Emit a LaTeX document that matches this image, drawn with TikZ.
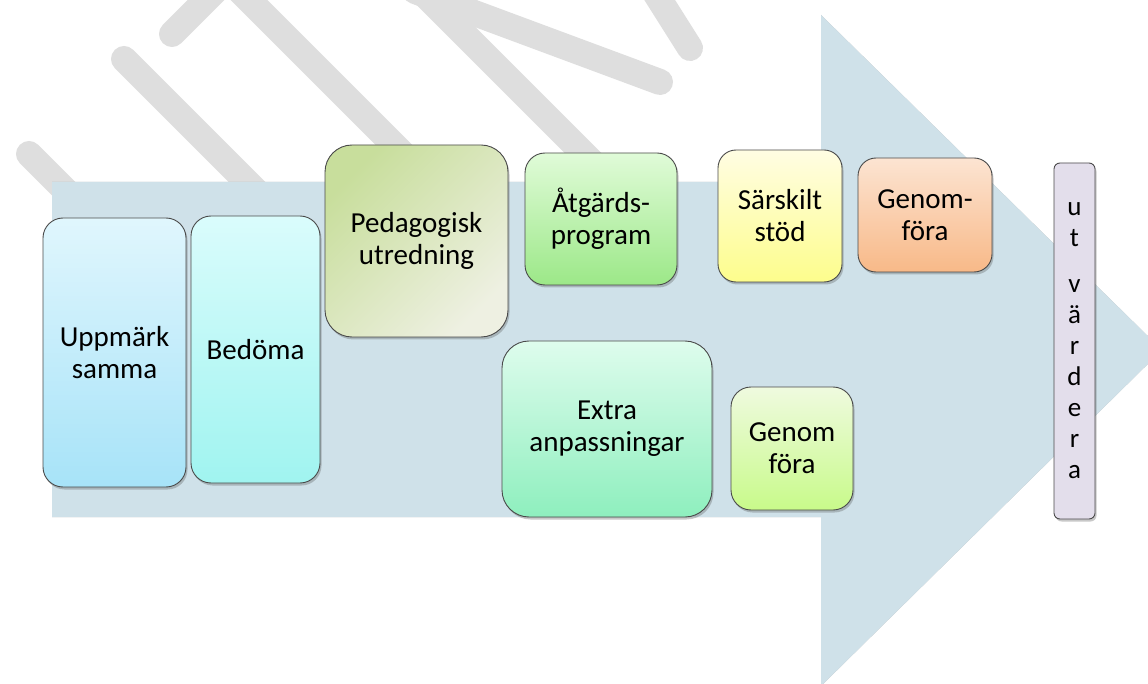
\documentclass[tikz,border=0pt]{standalone}
\usepackage{fontspec}
\setmainfont{Carlito}
\usetikzlibrary{shadows}
\definecolor{wmgray}{HTML}{DEDEDE}
\definecolor{arrowfill}{HTML}{CFE1E9}
\definecolor{edge}{HTML}{4A4A4A}
\definecolor{uppT}{HTML}{E0F6FD}\definecolor{uppB}{HTML}{A7E3F8}
\definecolor{bedT}{HTML}{DAFCFC}\definecolor{bedB}{HTML}{A0F4F0}
\definecolor{pedT}{HTML}{C8DE9C}\definecolor{pedB}{HTML}{EEF0E2}
\definecolor{atgT}{HTML}{E0FBD8}\definecolor{atgB}{HTML}{9CE888}
\definecolor{sarT}{HTML}{FFFDE3}\definecolor{sarB}{HTML}{FDFD8C}
\definecolor{genT}{HTML}{FCE4D2}\definecolor{genB}{HTML}{F8B988}
\definecolor{extT}{HTML}{DEFCED}\definecolor{extB}{HTML}{8EEFBE}
\definecolor{limT}{HTML}{EFFADF}\definecolor{limB}{HTML}{C8FA8A}
\definecolor{utvfill}{HTML}{E3DEEB}
\begin{document}
\begin{tikzpicture}[x=1pt,y=-1pt,
  wm/.style={draw=wmgray, line width=26pt, line cap=round},
  box/.style={draw=edge, line width=0.9pt, align=center, inner sep=2pt,
    font=\fontsize{29}{32}\selectfont,
    drop shadow={shadow xshift=1.5pt, shadow yshift=-2.5pt, opacity=.3, fill=black!70}},
  sz/.style 2 args={minimum width=#1pt, minimum height=#2pt}
]
\useasboundingbox (0,0) rectangle (1148,684);
\clip (0,0) rectangle (1148,684);
\fill[white] (0,0) rectangle (1148,684);

% watermark strokes
\draw[wm] (29,154) -- (140,265);
\draw[wm] (124,59) -- (300,235);
\draw[wm] (172,34) -- (215,-9);
\draw[wm] (240,-9) -- (460,211);
\draw[wm] (421,-9) -- (640,210);
\draw[wm] (415,-9) -- (660,82);
\draw[wm] (654,-9) -- (690,48);

% big arrow
\coordinate (a1) at (52,182);
\coordinate (a2) at (821,182);
\coordinate (a3) at (821,15);
\coordinate (a4) at (1162,350);
\coordinate (a5) at (821,686);
\coordinate (a6) at (821,517);
\coordinate (a7) at (52,517);
\fill[black!45, opacity=.6, xshift=1pt, yshift=-2pt]
  (a1) -- (a2) -- (a3) -- (a4) -- (a5) -- (a6) -- (a7) -- cycle;
\fill[arrowfill] (a1) -- (a2) -- (a3) -- (a4) -- (a5) -- (a6) -- (a7) -- cycle;

% boxes
\node[box, sz={143}{269}, rounded corners=20pt, top color=uppT, bottom color=uppB]
  (upp) at (114.5,352.5) {Uppmärk\\samma};
\node[box, sz={129}{267}, rounded corners=20pt, top color=bedT, bottom color=bedB]
  (bed) at (255.5,349.5) {Bedöma};
\node[box, sz={183}{192}, rounded corners=27pt, top color=pedT, bottom color=pedB, shading angle=45]
  (ped) at (416.5,241) {Pedagogisk\\utredning};
\node[box, sz={152}{132}, rounded corners=20pt, top color=atgT, bottom color=atgB]
  (atg) at (601,219) {Åtgärds-\\program};
\node[box, sz={124}{132}, rounded corners=18pt, top color=sarT, bottom color=sarB]
  (sar) at (780,216) {Särskilt\\stöd};
\node[box, sz={134}{114}, rounded corners=18pt, top color=genT, bottom color=genB]
  (gen1) at (925,215) {Genom-\\föra};
\node[box, sz={210}{176}, rounded corners=27pt, top color=extT, bottom color=extB]
  (ext) at (607,429) {Extra\\anpassningar};
\node[box, sz={122}{123}, rounded corners=20pt, top color=limT, bottom color=limB]
  (gen2) at (792,448.5) {Genom\\föra};
\node[box, sz={41}{356}, rounded corners=6pt, fill=utvfill, inner sep=0pt,
  font=\fontsize{27}{31}\selectfont]
  (utv) at (1074.5,341) {u\\t\\[15pt]v\\ä\\r\\d\\e\\r\\a};
\end{tikzpicture}
\end{document}
